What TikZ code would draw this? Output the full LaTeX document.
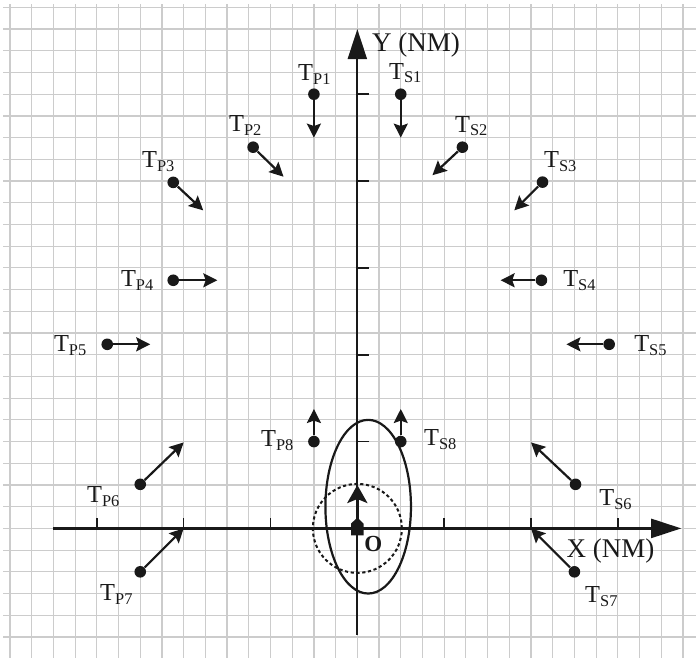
\documentclass[tikz,border=0pt]{standalone}
\usepackage{fontspec}
\setmainfont{Liberation Serif}
\usetikzlibrary{arrows.meta}
\newcommand{\tlab}[1]{T\raisebox{-1.9pt}{\fontsize{8.2}{9}\selectfont #1}}
\begin{document}
\begin{tikzpicture}[x=10.855pt,y=10.855pt,
  gridline/.style={draw=black!20, line width=0.6pt},
  axis/.style={line width=1.1pt, draw=black!90, -{Triangle[length=15pt,width=9.5pt]}},
  tickmark/.style={line width=0.8pt, draw=black!90},
  dot/.style={circle, fill=black!90, inner sep=0pt, minimum size=5.8pt},
  vec/.style={line width=1.1pt, draw=black!90, -{Stealth[length=7pt,width=7pt,inset=1.2pt]}},
  tlabel/.style={font=\fontsize{12.2}{13}\selectfont, inner sep=0pt, text=black!90},
  axlabel/.style={font=\fontsize{13.5}{14}\selectfont, inner sep=0pt, text=black!90}]
\useasboundingbox (-16.46,-5.96) rectangle (15.6,24.34);
\fill[white] (-16.46,-5.96) rectangle (15.6,24.34);
\draw[gridline, step=1] (-16.3,-5.96) grid (15.6,24.15);

% axes
\coordinate (xs) at (-14.02,0);
\coordinate (xe) at (14.92,0);
\coordinate (ys) at (0,-4.9);
\coordinate (ye) at (0,23);
\draw[axis] (xs) -- (xe);
\draw[axis] (ys) -- (ye);
\foreach \t in {-12,-8,-4,4,8,12} \draw[tickmark] (\t,0) -- (\t,0.5);
\foreach \t in {4,8,12,16,20} \draw[tickmark] (0,\t) -- (0.55,\t);
\node[axlabel] (ylab) at (2.7,22.27) {Y (NM)};
\node[axlabel] (xlab) at (11.66,-1.04) {X (NM)};

% own ship
\draw[line width=1.1pt, draw=black!90] (0.5,1) ellipse [x radius=1.97, y radius=4];
\draw[line width=1pt, draw=black!90, dash pattern=on 1.6pt off 1.3pt] (0,0) circle [radius=2.05];
\fill[black!90] (-0.29,-0.32) -- (-0.29,0.22) -- (0,0.5) -- (0.29,0.22) -- (0.29,-0.32) -- cycle;
\coordinate (owns) at (0,0.4);
\coordinate (owne) at (0,2);
\draw[line width=1.6pt, draw=black!90, -{Stealth[length=9pt,width=10pt,inset=2pt]}] (owns) -- (owne);
\node[font=\bfseries\fontsize{11.5}{12}\selectfont, inner sep=0pt, text=black!90] (o) at (0.74,-0.74) {O};

% targets
\node[dot] (p1) at (-2,20) {};       \coordinate (p1e) at (-2,18.0);
\node[dot] (s1) at (2,20) {};        \coordinate (s1e) at (2,18.0);
\node[dot] (p2) at (-4.8,17.56) {};  \coordinate (p2e) at (-3.4,16.2);
\node[dot] (s2) at (4.84,17.56) {};  \coordinate (s2e) at (3.46,16.27);
\node[dot] (p3) at (-8.48,15.94) {}; \coordinate (p3e) at (-7.1,14.65);
\node[dot] (s3) at (8.53,15.95) {};  \coordinate (s3e) at (7.23,14.65);
\node[dot] (p4) at (-8.48,11.43) {}; \coordinate (p4e) at (-6.45,11.43);
\node[dot] (s4) at (8.48,11.43) {};  \coordinate (s4e) at (6.6,11.43);
\node[dot] (p5) at (-11.52,8.48) {}; \coordinate (p5e) at (-9.54,8.48);
\node[dot] (s5) at (11.6,8.48) {};   \coordinate (s5e) at (9.63,8.48);
\node[dot] (p6) at (-10,2.03) {};    \coordinate (p6e) at (-8,3.96);
\node[dot] (s6) at (10.05,2.03) {};  \coordinate (s6e) at (8,3.96);
\node[dot] (p7) at (-10,-2) {};      \coordinate (p7e) at (-8,0);
\node[dot] (s7) at (10,-2) {};       \coordinate (s7e) at (8,0);
\node[dot] (p8) at (-2,4) {};        \coordinate (p8e) at (-2,5.5);
\node[dot] (s8) at (2,4) {};         \coordinate (s8e) at (2,5.5);
\foreach \n in {p1,s1,p2,s2,p3,s3,p4,s4,p5,s5,p6,s6,p7,s7,p8,s8}
  \draw[vec] (\n) -- (\n e);

\node[tlabel] (lp1) at (-1.98,20.9) {\tlab{P1}};
\node[tlabel] (ls1) at (2.21,20.97) {\tlab{S1}};
\node[tlabel] (lp2) at (-5.16,18.57) {\tlab{P2}};
\node[tlabel] (ls2) at (5.25,18.53) {\tlab{S2}};
\node[tlabel] (lp3) at (-9.17,16.91) {\tlab{P3}};
\node[tlabel] (ls3) at (9.35,16.91) {\tlab{S3}};
\node[tlabel] (lp4) at (-10.14,11.43) {\tlab{P4}};
\node[tlabel] (ls4) at (10.23,11.43) {\tlab{S4}};
\node[tlabel] (lp5) at (-13.23,8.43) {\tlab{P5}};
\node[tlabel] (ls5) at (13.5,8.43) {\tlab{S5}};
\node[tlabel] (lp6) at (-11.7,1.47) {\tlab{P6}};
\node[tlabel] (ls6) at (11.89,1.34) {\tlab{S6}};
\node[tlabel] (lp7) at (-11.1,-3.04) {\tlab{P7}};
\node[tlabel] (ls7) at (11.24,-3.13) {\tlab{S7}};
\node[tlabel] (lp8) at (-3.69,4.06) {\tlab{P8}};
\node[tlabel] (ls8) at (3.82,4.1) {\tlab{S8}};
\end{tikzpicture}
\end{document}
